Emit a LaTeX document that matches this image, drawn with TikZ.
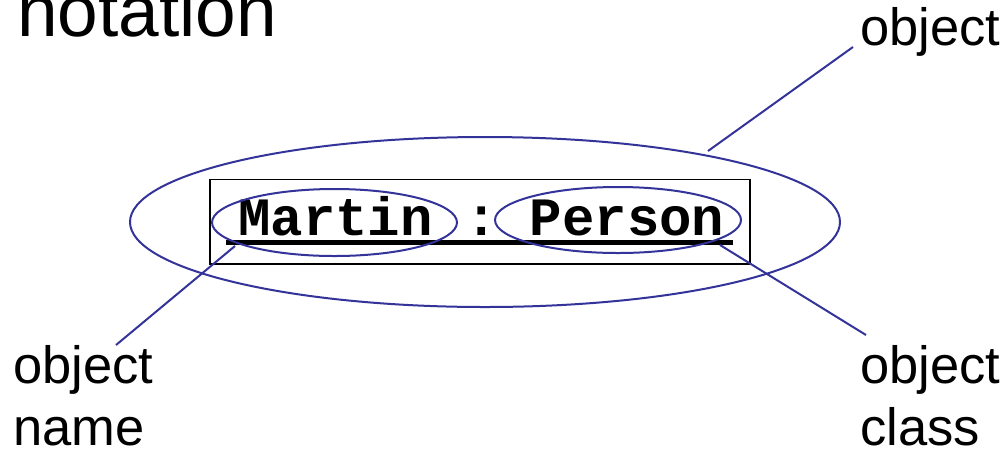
\documentclass[tikz,border=0pt]{standalone}
\usepackage{fontspec}
\setmainfont{Liberation Sans}
\setmonofont{Liberation Mono}
\usepackage{tikz}
\usetikzlibrary{shapes.geometric,positioning}
\definecolor{calloutblue}{RGB}{51,51,153}

\begin{document}
\begin{tikzpicture}[x=1pt,y=-1pt,
  lbl/.style={anchor=base west,inner sep=0pt,align=left,font=\fontsize{52.5}{62}\selectfont},
  mono/.style={anchor=base west,inner sep=0pt,font=\fontsize{54}{60}\selectfont\ttfamily\bfseries},
  oval/.style={ellipse,draw=calloutblue,line width=2pt,inner sep=0pt},
  callout/.style={draw=calloutblue,line width=2pt}]
  \useasboundingbox (0,0) rectangle (1007,451);
  \node[anchor=base west,inner sep=0pt,font=\fontsize{73}{80}\selectfont] (title) at (17,36) {notation};
  \node[oval,minimum width=710,minimum height=170] (objoval) at (485,222) {};
  \node[draw,line width=1.6pt,minimum width=540,minimum height=84.5,inner sep=0pt] (objbox) at (480,221.75) {};
  \node[mono] (martin) at (238,235) {Martin};
  \node[mono] (colon) at (238+7*32.4,235) {:};
  \node[mono] (person) at (238+9*32.4,235) {Person};
  \draw[line width=5pt] (226,242) coordinate (ulstart) -- (733,242) coordinate (ulend);
  \node[oval,minimum width=245,minimum height=67] (nameoval) at (334.5,222.5) {};
  \node[oval,minimum width=246,minimum height=66] (classoval) at (618,220) {};
  \node[lbl] (objlabel) at (860,45) {object};
  \node[lbl] (namelabel) at (13,445) {object\\name};
  \node[lbl] (classlabel) at (860,445) {object\\class};
  \coordinate (objfoot) at (708,151);
  \coordinate (objtip) at (853,47);
  \coordinate (namefoot) at (235,246);
  \coordinate (nametip) at (116,345);
  \coordinate (classfoot) at (720,245);
  \coordinate (classtip) at (866,335);
  \draw[callout] (objfoot) -- (objtip);
  \draw[callout] (namefoot) -- (nametip);
  \draw[callout] (classfoot) -- (classtip);
\end{tikzpicture}
\end{document}
